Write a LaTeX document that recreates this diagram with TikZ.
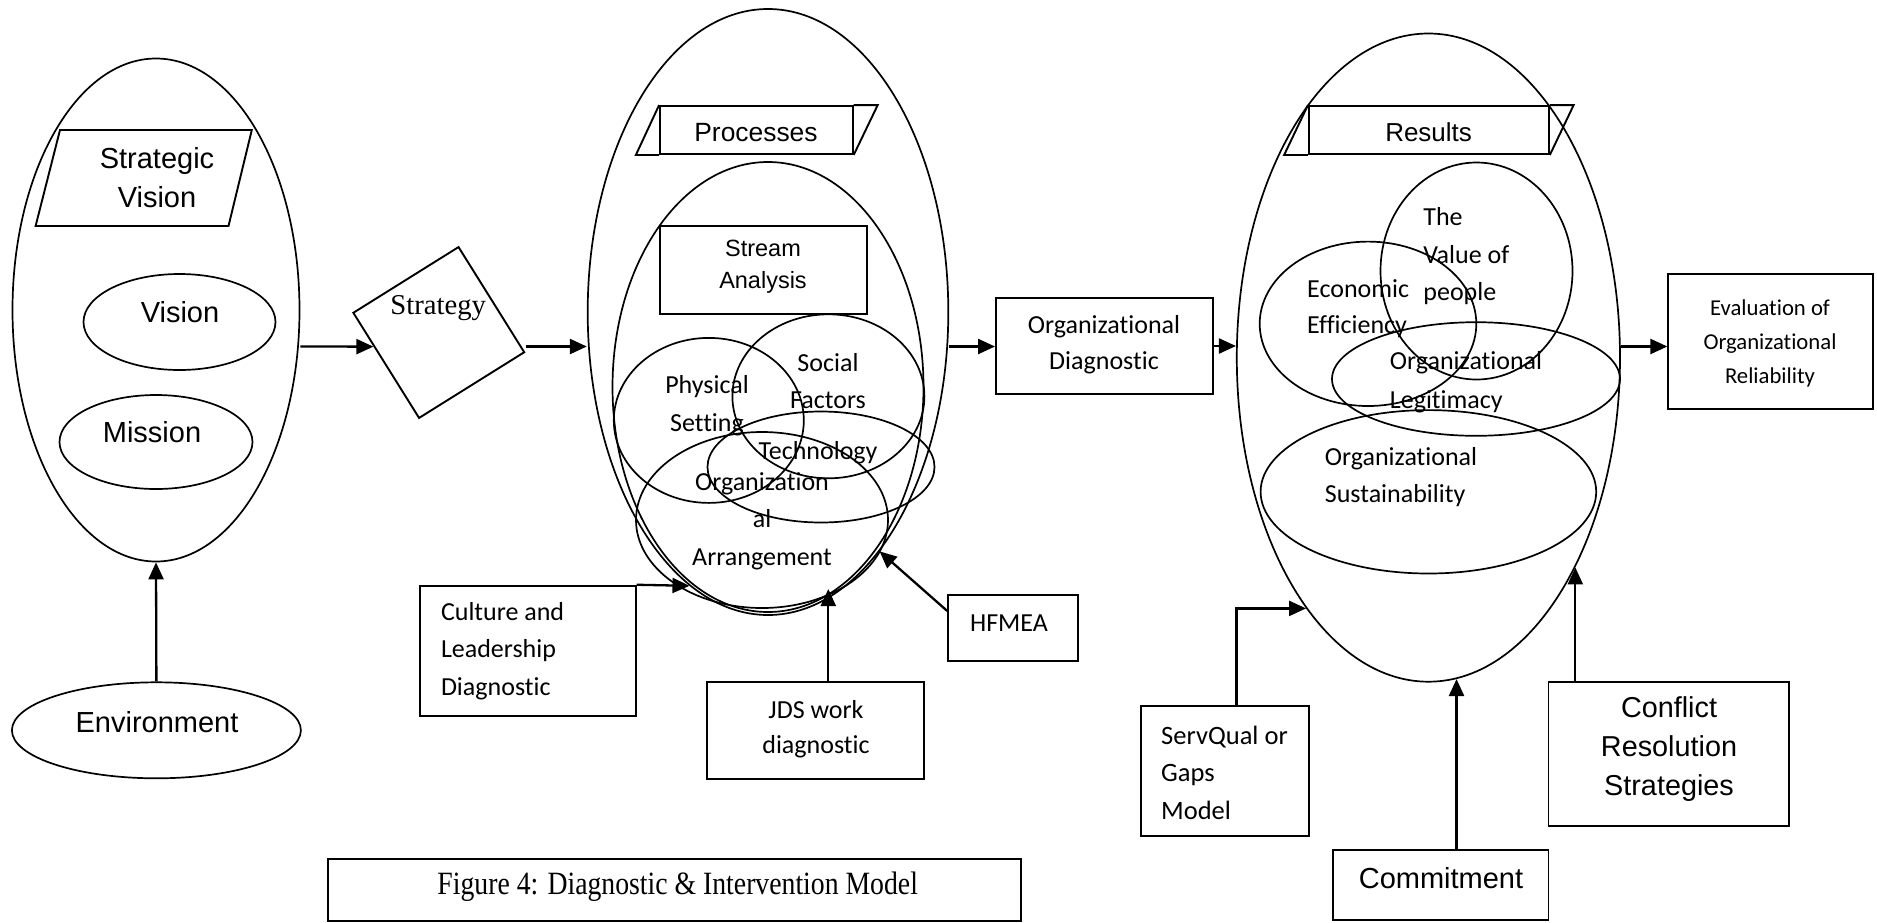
\documentclass[tikz,border=0pt]{standalone}
\usepackage{fontspec}
\setmainfont{Carlito}[Ligatures=NoCommon]
\newfontfamily\fa{Liberation Sans}
\newfontfamily\ft{Liberation Serif}
\newfontfamily\ftc{Liberation Serif}[FakeStretch=0.853]
\usetikzlibrary{shapes.geometric,arrows.meta,calc}
\newcommand\setfs[2]{\fontsize{#1pt}{#2pt}\selectfont}
\begin{document}
\begin{tikzpicture}[x=1pt,y=-1pt,
  ell/.style={draw, ellipse, inner sep=0pt, line width=1.7pt},
  box/.style={draw, rectangle, inner sep=0pt, line width=1.9pt},
  txt/.style={inner sep=0pt, align=center},
  ltxt/.style={inner sep=0pt, align=left, anchor=west},
  arr/.style={-{Triangle[length=17pt,width=15pt]}, line width=2.3pt},
  ln/.style={line width=1.9pt}]
\useasboundingbox (0,0) rectangle (1877,922);
\coordinate (row) at (0,346.5);

% ---------- left group
\node[ell, minimum width=287pt, minimum height=503pt] (leftell) at (156,310) {};
\draw[ln] (35.6,226) -- (60,130) -- (251.8,130) -- (228.5,226) -- cycle;
\node[txt, font=\fa\setfs{29}{39}] (svtxt) at (157,177.5) {Strategic\\Vision};
\node[ell, minimum width=192pt, minimum height=96pt] (visionell) at (179.5,322) {};
\node[txt, font=\fa\setfs{29}{35}] (visiontxt) at (180,312.5) {Vision};
\node[ell, minimum width=193pt, minimum height=94pt] (missionell) at (156,442) {};
\node[txt, font=\fa\setfs{29}{35}] (missiontxt) at (152,432.5) {Mission};
\node[ell, minimum width=289pt, minimum height=96pt] (envell) at (156.4,730.3) {};
\node[txt, font=\fa\setfs{29}{35}] (envtxt) at (157,721.7) {Environment};
\draw[arr] (envell.north) -- (leftell.south);

% ---------- strategy
\node[draw, rectangle, rotate=32, minimum size=124pt, inner sep=0pt, line width=1.9pt] (strategy) at (438.8,332.5) {};
\node[txt, font=\ft\setfs{28.7}{34}] (strategytxt) at (438.2,308) {Strategy};
\draw[arr] (leftell.east |- row) -- ($(strategy.north west)!0.32!(strategy.south west)$);

% ---------- processes
\node[ell, minimum width=360.6pt, minimum height=606pt] (procell) at (768,312) {};
\draw[arr] (strategy.south east |- row) -- (procell.west |- row);
\node[box, minimum width=192.7pt, minimum height=48pt] (proc) at (756.4,130) {};
\draw[ln] (proc.south west) -- ++(-23.2,0) -- (proc.north west);
\draw[ln] (proc.north east) -- ++(24,0) -- (proc.south east);
\node[txt, font=\fa\setfs{26.4}{32}] (proctxt) at (756,132.7) {Processes};
\node[ell, minimum width=311pt, minimum height=450pt] (innerell) at (768,387) {};
\node[box, minimum width=207pt, minimum height=88pt] (stream) at (763.5,269.6) {};
\node[txt, font=\fa\setfs{23.5}{31.4}] (streamtxt) at (763,266.7) {Stream\\Analysis};
\node[ell, minimum width=190pt, minimum height=165pt] (physell) at (708.8,420.4) {};
\node[ell, minimum width=192pt, minimum height=164pt] (socialell) at (828.4,396.3) {};
\node[ell, minimum width=227pt, minimum height=111pt] (techell) at (821,467) {};
\node[ell, minimum width=252pt, minimum height=176pt] (orgarrell) at (762,520) {};
\node[txt, font=\setfs{26}{38}] (phystxt) at (707,406) {Physical\\Setting};
\node[txt, font=\setfs{26}{37.6}] (socialtxt) at (828,381) {Social\\Factors};
\node[txt, font=\setfs{26}{32}] (techtxt) at (818,453) {Technology};
\node[txt, font=\setfs{26}{37.4}] (orgarrtxt) at (762,521) {Organization\\al\\Arrangement};

% ---------- organizational diagnostic
\node[box, minimum width=216.6pt, minimum height=96pt] (orgdiag) at (1104.3,346) {};
\node[txt, font=\setfs{26}{36.5}] (orgdiagtxt) at (1104,344.7) {Organizational\\Diagnostic};
\draw[arr] (procell.east |- row) -- (orgdiag.west |- row);

% ---------- inputs to processes
\node[box, minimum width=215.6pt, minimum height=130pt] (culture) at (527.8,650.7) {};
\node[ltxt, font=\setfs{26}{37.5}] (culturetxt) at (440.8,650.8) {Culture and\\Leadership\\Diagnostic};
\draw[arr] (culture.north east) -- (procell.254.3);
\node[box, minimum width=216.3pt, minimum height=96.7pt] (jds) at (815.5,730.7) {};
\node[txt, font=\setfs{26}{35}] (jdstxt) at (816,729.2) {JDS work\\diagnostic};
\coordinate (jdstip) at (828.3,589);
\draw[arr] (jds.north -| jdstip) -- (jdstip);
\node[box, minimum width=129.5pt, minimum height=66pt] (hfmea) at (1013,628) {};
\node[txt, font=\setfs{26}{32}] (hfmeatxt) at (1009,623) {HFMEA};
\draw[arr] ($(hfmea.north west)!0.25!(hfmea.south west)$) -- (procell.-65.6);

% ---------- caption
\node[box, minimum width=693.5pt, minimum height=62pt] (caption) at (674.5,890) {};
\node[txt, font=\ftc\setfs{32.5}{38}] (captiontxt) at (677.7,887) {Figure 4: Diagnostic \& Intervention Model};

% ---------- results
\node[ell, minimum width=383.2pt, minimum height=648.2pt] (resell) at (1428.4,357.6) {};
\draw[arr] (orgdiag.east) -- (resell.west |- orgdiag.east);
\node[box, minimum width=240pt, minimum height=48pt] (res) at (1428.9,130) {};
\draw[ln] (res.south west) -- ++(-23.8,0) -- (res.north west);
\draw[ln] (res.north east) -- ++(23.8,0) -- (res.south east);
\node[txt, font=\fa\setfs{26}{32}] (restxt) at (1428.6,132.7) {Results};
\node[ell, minimum width=192pt, minimum height=217pt] (valueell) at (1476.5,271) {};
\node[ell, minimum width=216.6pt, minimum height=164.4pt] (econell) at (1368,323.8) {};
\node[ell, minimum width=288pt, minimum height=113.6pt] (legitell) at (1476,379) {};
\node[ell, minimum width=335.6pt, minimum height=163.4pt] (sustell) at (1428.4,491.8) {};
\node[ltxt, font=\setfs{26}{37.5}] (valuetxt) at (1423.2,256.5) {The\\Value of\\people};
\node[ltxt, font=\setfs{26}{36}] (econtxt) at (1307,309) {Economic\\Efficiency};
\node[ltxt, font=\setfs{26}{39}] (legittxt) at (1389.7,382.5) {Organizational\\Legitimacy};
\node[ltxt, font=\setfs{26}{37}] (susttxt) at (1324.7,477.5) {Organizational\\Sustainability};

% ---------- evaluation
\node[box, minimum width=204.4pt, minimum height=135pt] (eval) at (1770.5,341.9) {};
\node[txt, font=\setfs{22.7}{33.8}] (evaltxt) at (1770,343.5) {Evaluation of\\Organizational\\Reliability};
\draw[arr] (resell.east |- row) -- (eval.west |- row);

% ---------- inputs to results
\node[box, minimum width=168pt, minimum height=130pt] (servqual) at (1224.6,770.7) {};
\node[ltxt, font=\setfs{26.5}{37.5}] (servqualtxt) at (1161,772.5) {ServQual or\\Gaps\\Model};
\draw[arr] ($(servqual.north west)!0.5696!(servqual.north east)$) |- (resell.244.56);
\node[box, minimum width=215.6pt, minimum height=70pt] (commit) at (1440.7,885) {};
\node[txt, font=\fa\setfs{29}{35}] (committxt) at (1441,878.3) {Commitment};
\draw[arr] (commit.north -| resell.-85.66) -- (resell.-85.66);
\node[box, minimum width=240.3pt, minimum height=144.3pt] (conflict) at (1668.6,753.8) {};
\node[txt, font=\fa\setfs{28.8}{39}] (conflicttxt) at (1669,749.3) {Conflict\\Resolution\\Strategies};
\draw[arr] (conflict.north -| resell.-55.68) -- (resell.-55.68);
\end{tikzpicture}
\end{document}
